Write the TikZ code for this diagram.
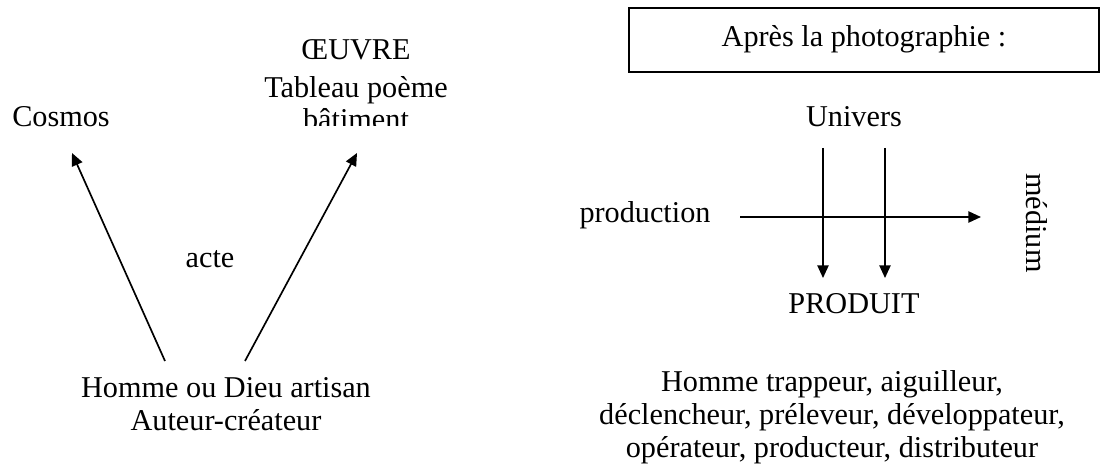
\documentclass[tikz,border=0pt]{standalone}
\usepackage{fontspec}
\setmainfont{Liberation Serif}
\usetikzlibrary{arrows.meta}
\tikzset{
  txt/.style={inner sep=0pt, anchor=base, font=\fontsize{21.5pt}{23.2pt}\selectfont, align=center},
  fleche/.style={line width=1.2pt, -{Triangle[length=9pt, width=8pt]}},
}

\begin{document}
\begin{tikzpicture}[x=0.025cm, y=-0.025cm]
\useasboundingbox (0,0) rectangle (1100,472);
%%% avant la photographie %%%

      \node[txt] (cosmos) at (61,127) {Cosmos};
      \node[txt] (oeuvre) at (356,60) {\OE UVRE};
      \begin{scope}
        \clip (200,70) rectangle (480,126);
        \node[txt] (tableau) at (356,130) {Tableau poème\\bâtiment};
      \end{scope}
      \node[txt] (acte) at (210,268) {acte};
      \node[txt] (homme) at (226,430) {Homme ou Dieu artisan\\Auteur-créateur};
      %%
      \coordinate (pieda) at (165,361);
      \coordinate (piedb) at (245,361);
      \coordinate (tetea) at (72,153);
      \coordinate (teteb) at (357,153);
      \draw[fleche] (pieda) -- (tetea);
      \draw[fleche] (piedb) -- (teteb);

%%% apres la photographie %%%

      \draw[line width=1.1pt] (629,8) rectangle (1099,72);
      \node[txt] (apres) at (864,47) {Après la photographie :};
      \node[txt] (univers) at (854,127) {Univers};
      \node[txt] (production) at (645,223) {production};
      \node[txt, rotate=-90, anchor=center] (medium) at (1037,223) {médium};
      \node[txt] (produit) at (854,313) {PRODUIT};
      \node[txt] (trappeur) at (832,457) {Homme trappeur, aiguilleur,\\déclencheur, préleveur, développateur,\\opérateur, producteur, distributeur};
      %%
      \coordinate (hauta) at (823,148);
      \coordinate (hautb) at (885,148);
      \coordinate (basa) at (823,278);
      \coordinate (basb) at (885,278);
      \coordinate (gauche) at (740,217);
      \coordinate (droite) at (981,217);
      \draw[fleche] (gauche) -- (droite);
      \draw[fleche] (hauta) -- (basa);
      \draw[fleche] (hautb) -- (basb);

\end{tikzpicture}
\end{document}
